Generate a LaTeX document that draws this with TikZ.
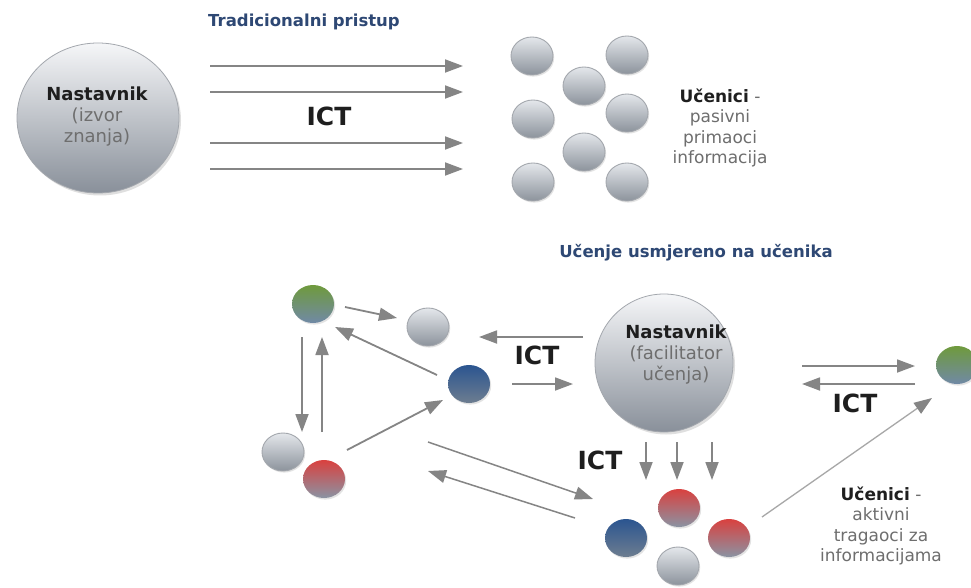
\documentclass[tikz,border=0pt]{standalone}
\usepackage{fontspec}
\setmainfont{DejaVu Sans}
\usetikzlibrary{arrows.meta,shapes.geometric,shadows,calc}
\definecolor{arrg}{HTML}{858585}
\definecolor{arrl}{HTML}{A8A8A8}
\definecolor{ttl}{HTML}{2E4874}
\definecolor{txg}{HTML}{6E6E6E}
\definecolor{txb}{HTML}{1E1E1E}
\definecolor{gtop}{HTML}{E4E7EB}
\definecolor{gbot}{HTML}{8C939C}
\definecolor{grim}{HTML}{A3A7AD}
\definecolor{bigtop}{HTML}{F5F6F8}
\definecolor{bigbot}{HTML}{89909A}
\definecolor{grtop}{HTML}{6F9A3C}
\definecolor{grbot}{HTML}{7089A6}
\definecolor{bltop}{HTML}{2B5590}
\definecolor{blbot}{HTML}{6D7D90}
\definecolor{rdtop}{HTML}{D9413F}
\definecolor{rdbot}{HTML}{8A93A3}
\begin{document}
\begin{tikzpicture}[x=1pt,y=-1pt,
  ballbase/.style={ellipse, minimum width=42pt, minimum height=38pt, inner sep=0pt,
    drop shadow={opacity=0.22, shadow xshift=1.2pt, shadow yshift=-1.6pt}},
  gball/.style={ballbase, draw=grim, line width=0.9pt, top color=gtop, bottom color=gbot},
  grball/.style={ballbase, top color=grtop, bottom color=grbot},
  blball/.style={ballbase, top color=bltop, bottom color=blbot},
  rdball/.style={ballbase, top color=rdtop, bottom color=rdbot},
  bigball/.style={ellipse, inner sep=0pt, draw=grim, line width=0.8pt, top color=bigtop, bottom color=bigbot,
    drop shadow={opacity=0.25, shadow xshift=2pt, shadow yshift=-2.5pt}},
  arr/.style={draw=arrg, line width=1.8pt, -{Triangle[length=18pt,width=13pt]}},
  larr/.style={draw=arrl, line width=1.3pt, -{Triangle[length=18pt,width=13pt,color=arrg]}},
  ict/.style={font=\fontsize{25}{29}\selectfont\bfseries, text=txb},
  ttlst/.style={font=\fontsize{16.5}{19}\selectfont\bfseries, text=ttl},
  txt/.style={font=\fontsize{18}{21}\selectfont, text=txg, align=center},
  stxt/.style={font=\fontsize{17}{20.5}\selectfont, text=txg, align=center},
]
\useasboundingbox (0,0) rectangle (971,588);
\fill[white] (0,0) rectangle (971,588);

% ---------- top: traditional ----------
\node[ttlst] (t1) at (304,22) {Tradicionalni pristup};
\node[bigball, minimum width=162pt, minimum height=150pt] (T1) at (98,118) {};
\node[txt] (T1t) at (97,117) {{\bfseries\color{txb}Nastavnik}\\(izvor\\znanja)};

\foreach \n/\px/\py in {p1/532/56, p2/627/55, p3/584/86, p4/533/119, p5/627/113, p6/584/152, p7/533/182, p8/627/182}
  \node[gball] (\n) at (\px,\py) {};

\node[stxt] (P) at (720,128) {{\bfseries\color{txb}Učenici} -\\pasivni\\primaoci\\informacija};

\foreach \k/\yy in {1/66,2/92,3/143,4/169}{
  \coordinate (as\k) at (210,\yy);
  \coordinate (ae\k) at (463,\yy);
  \draw[arr] (as\k) -- (ae\k);
}
\node[ict] (ict1) at (329,116) {ICT};

% ---------- bottom: learner centred ----------
\node[ttlst] (t2) at (696,253) {Učenje usmjereno na učenika};
\node[bigball, minimum size=138pt, circle] (N2) at (664,363) {};
\node[txt] (N2t) at (676,355) {{\bfseries\color{txb}Nastavnik}\\(facilitator\\učenja)};

\node[grball] (g1) at (313,304) {};
\node[gball]  (w1) at (428,327) {};
\node[blball] (b1) at (469,384) {};
\node[gball]  (w2) at (283,452) {};
\node[rdball] (r1) at (324,479) {};
\node[grball] (gR) at (957,365) {};

\node[rdball] (cr1) at (679,508) {};
\node[blball] (cb)  at (626,538) {};
\node[rdball] (cr2) at (729,538) {};
\node[gball]  (cw)  at (678,566) {};

\draw[arr] ($(g1)+(32,3)$) -- ($(w1)+(-31,-9)$);
\draw[arr] ($(b1)+(-32,-9)$) -- ($(g1)+(22,23)$);
\draw[arr] ($(g1)+(-11,33)$) -- ($(w2)+(19,-20)$);
\draw[arr] ($(w2)+(39,-20)$) -- ($(g1)+(9,33)$);
\draw[arr] ($(r1)+(23,-29)$) -- ($(b1)+(-26,16)$);
\draw[arr] ($(N2)+(-81,-26)$) -- ($(w1)+(51,10)$);
\draw[arr] ($(b1)+(43,0)$) -- ($(N2)+(-91,21)$);
\draw[arr] ($(N2)+(138,3)$) -- ($(gR)+(-42,1)$);
\draw[arr] ($(gR)+(-42,19)$) -- ($(N2)+(138,21)$);
\foreach \dx in {-18,13,48}
  \draw[arr] ($(N2.south)+(\dx,10)$) -- ($(cr1)+(\dx-15,-28)$);
\draw[arr, line width=1.5pt] ($(b1)+(-41,58)$) -- ($(cb)+(-33,-39)$);
\draw[arr, line width=1.5pt] ($(cb)+(-51,-20)$) -- ($(b1)+(-41,87)$);
\draw[larr] ($(cr2)+(33,-21)$) -- ($(gR)+(-25,33)$);

\node[ict] (ict2) at (537,355) {ICT};
\node[ict] (ict3) at (855,403) {ICT};
\node[ict] (ict4) at (600,460) {ICT};

\node[stxt] (A) at (881,526) {{\bfseries\color{txb}Učenici} -\\aktivni\\tragaoci za\\informacijama};
\end{tikzpicture}
\end{document}
